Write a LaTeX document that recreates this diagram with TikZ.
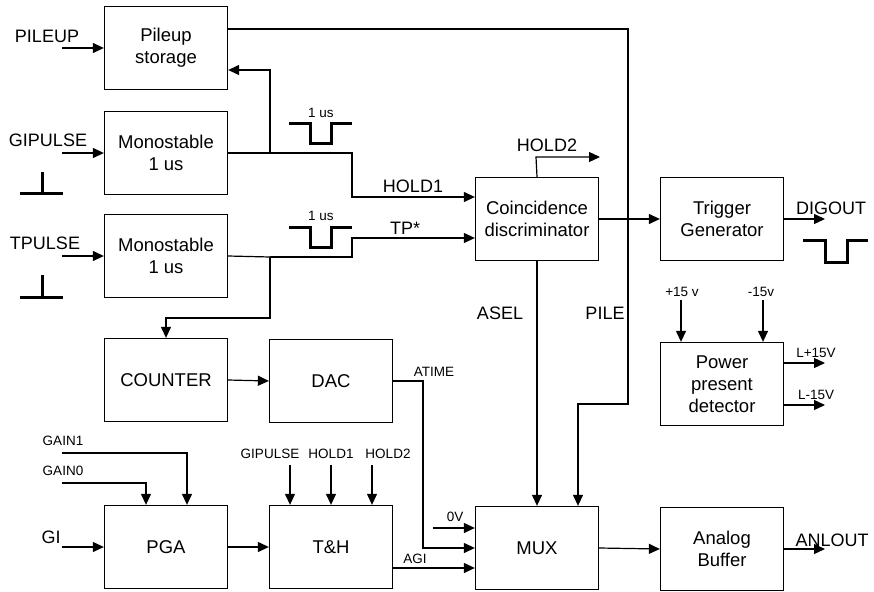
\documentclass[tikz,border=0pt]{standalone}
\usepackage{fontspec}
\setmainfont{Liberation Sans}
\usepackage{tikz}
\usetikzlibrary{arrows.meta, positioning}

\begin{document}
\begin{tikzpicture}[
        x=1pt, y=-1pt,
        line width=1.2pt,
        block/.style={
            rectangle,
            draw=black,
            line width=1.3pt,
            minimum width=123pt,
            minimum height=83pt,
            align=center,
            inner sep=0pt,
            font=\fontsize{18.5}{22}\selectfont
        },
        arrow/.style={
            -{Triangle[length=11pt,width=10pt]},
            line width=1.2pt
        },
        txt/.style={
            inner sep=0pt,
            font=\fontsize{18}{20}\selectfont
        },
        stxt/.style={
            inner sep=0pt,
            font=\fontsize{13.5}{15}\selectfont
        },
        pulse/.style={
            line width=3pt
        }
    ]
        \useasboundingbox (0,0) rectangle (874,591);

        % Nodes
        \node[block] (pileup) at (166,48) {Pileup\\storage};
        \node[block] (mono1) at (166,153) {Monostable\\1 us};
        \node[block] (mono2) at (166,256) {Monostable\\1 us};
        \node[block] (counter) at (166,380) {COUNTER};
        \node[block] (dac) at (331,381) {DAC};
        \node[block] (pga) at (166,547) {PGA};
        \node[block] (th) at (331,547) {T\&H};
        \node[block] (coinc) at (537,219) {Coincidence\\discriminator};
        \node[block] (trigger) at (722,219) {Trigger\\Generator};
        \node[block] (power) at (722,384) {Power\\present\\detector};
        \node[block] (mux) at (537,548) {MUX};
        \node[block] (buffer) at (722,549) {Analog\\Buffer};

        % Free ends
        \coordinate (pileupin) at (62,48);
        \coordinate (gipulsein) at (62,153);
        \coordinate (tpulsein) at (62,256);
        \coordinate (giin) at (62,547);
        \coordinate (gain1in) at (62,453);
        \coordinate (gain0in) at (62,483);
        \coordinate (j1) at (270,153);
        \coordinate (j2) at (270,257);
        \coordinate (hold2out) at (600,157);
        \coordinate (digout) at (825,219);
        \coordinate (lp15out) at (825,363);
        \coordinate (lm15out) at (825,405);
        \coordinate (anlout) at (825,549);
        \coordinate (p15in) at (681,300);
        \coordinate (m15in) at (763,300);
        \coordinate (zerovin) at (433,528);
        \coordinate (thgi) at (290,465);
        \coordinate (thh1) at (331,465);
        \coordinate (thh2) at (372,465);

        % Labels
        \node[txt] (lpileup) at (47,36) {PILEUP};
        \node[txt] (lgipulse) at (48,140) {GIPULSE};
        \node[txt] (ltpulse) at (45,243) {TPULSE};
        \node[txt] (lgi) at (51,537) {GI};
        \node[stxt] (lgain1) at (63,441) {GAIN1};
        \node[stxt] (lgain0) at (63,471) {GAIN0};
        \node[stxt] (lthgi) at (270,454) {GIPULSE};
        \node[stxt] (lthh1) at (331,454) {HOLD1};
        \node[stxt] (lthh2) at (388,454) {HOLD2};
        \node[txt] (lhold1) at (413,186) {HOLD1};
        \node[txt] (ltp) at (405,228) {TP*};
        \node[txt] (lhold2) at (547,145) {HOLD2};
        \node[txt] (ldigout) at (831,208) {DIGOUT};
        \node[txt] (lasel) at (500,313) {ASEL};
        \node[txt] (lpile) at (605,313) {PILE};
        \node[stxt] (lp15) at (682,292) {+15 v};
        \node[stxt] (lm15) at (761,292) {-15v};
        \node[stxt] (llp15) at (816,353) {L+15V};
        \node[stxt] (llm15) at (816,395) {L-15V};
        \node[stxt] (latime) at (434,372) {ATIME};
        \node[stxt] (lzerov) at (455,517) {0V};
        \node[stxt] (lagi) at (415,559) {AGI};
        \node[txt] (lanlout) at (832,540) {ANLOUT};
        \node[stxt] (lus1) at (321,113) {1 us};
        \node[stxt] (lus2) at (321,216) {1 us};

        % Inputs
        \draw[arrow] (pileupin) -- (pileup.west);
        \draw[arrow] (gipulsein) -- (mono1.west);
        \draw[arrow] (tpulsein) -- (mono2.west);
        \draw[arrow] (giin) -- (pga.west);
        \draw[arrow] (gain1in) -- (187,453) -- ([xshift=21pt]pga.north);
        \draw[arrow] (gain0in) -- (146,483) -- ([xshift=-20pt]pga.north);
        \draw[arrow] (thgi) -- ([xshift=-41pt]th.north);
        \draw[arrow] (thh1) -- (th.north);
        \draw[arrow] (thh2) -- ([xshift=41pt]th.north);

        % Monostables
        \draw (mono1.east) -- (j1);
        \draw[arrow] (j1) |- ([yshift=-22pt]pileup.east);
        \draw[arrow] (j1) -- (352,153) -- (352,197) -- ([yshift=22pt]coinc.west);
        \draw (mono2.east) -- (j2);
        \draw[arrow] (j2) -- (270,318) -| (counter.north);
        \draw[arrow] (j2) -- (352,257) -- (352,238) -- ([yshift=-19pt]coinc.west);

        % Coincidence and trigger
        \draw[arrow] (coinc.north) -- (536,157) -- (hold2out);
        \draw[arrow] (coinc.east) -- (trigger.west);
        \draw[arrow] (trigger.east) -- (digout);
        \draw[arrow] (coinc.south) -- (mux.north);
        \draw[arrow] ([yshift=19pt]pileup.east) -- (628,29) -- (628,404) -- (578,404) -- ([xshift=41pt]mux.north);

        % Power
        \draw[arrow] (p15in) -- ([xshift=-41pt]power.north);
        \draw[arrow] (m15in) -- ([xshift=41pt]power.north);
        \draw[arrow] ([yshift=21pt]power.east) -- (lp15out);
        \draw[arrow] ([yshift=-21pt]power.east) -- (lm15out);

        % Analog chain
        \draw[arrow] (counter.east) -- (dac.west);
        \draw[arrow] (pga.east) -- (th.west);
        \draw[arrow] (dac.east) -- (423,381) -- (423,548) -- (mux.west);
        \draw[arrow] (zerovin) -- ([yshift=20pt]mux.west);
        \draw[arrow] ([yshift=-21pt]th.east) -- ([yshift=-20pt]mux.west);
        \draw[arrow] (mux.east) -- (buffer.west);
        \draw[arrow] (buffer.east) -- (anlout);

        % Pulse shapes
        \draw[pulse] (20,193) -- (63,193) (42,172) -- (42,193);
        \draw[pulse] (20,297) -- (63,297) (42,275) -- (42,297);
        \draw[pulse] (289,123) -- (310,123) -- (310,143) -- (331,143) -- (331,123) -- (352,123);
        \draw[pulse] (289,227) -- (310,227) -- (310,247) -- (331,247) -- (331,227) -- (352,227);
        \draw[pulse] (803,240) -- (825,240) -- (825,262) -- (847,262) -- (847,240) -- (868,240);
    \end{tikzpicture}
\end{document}
